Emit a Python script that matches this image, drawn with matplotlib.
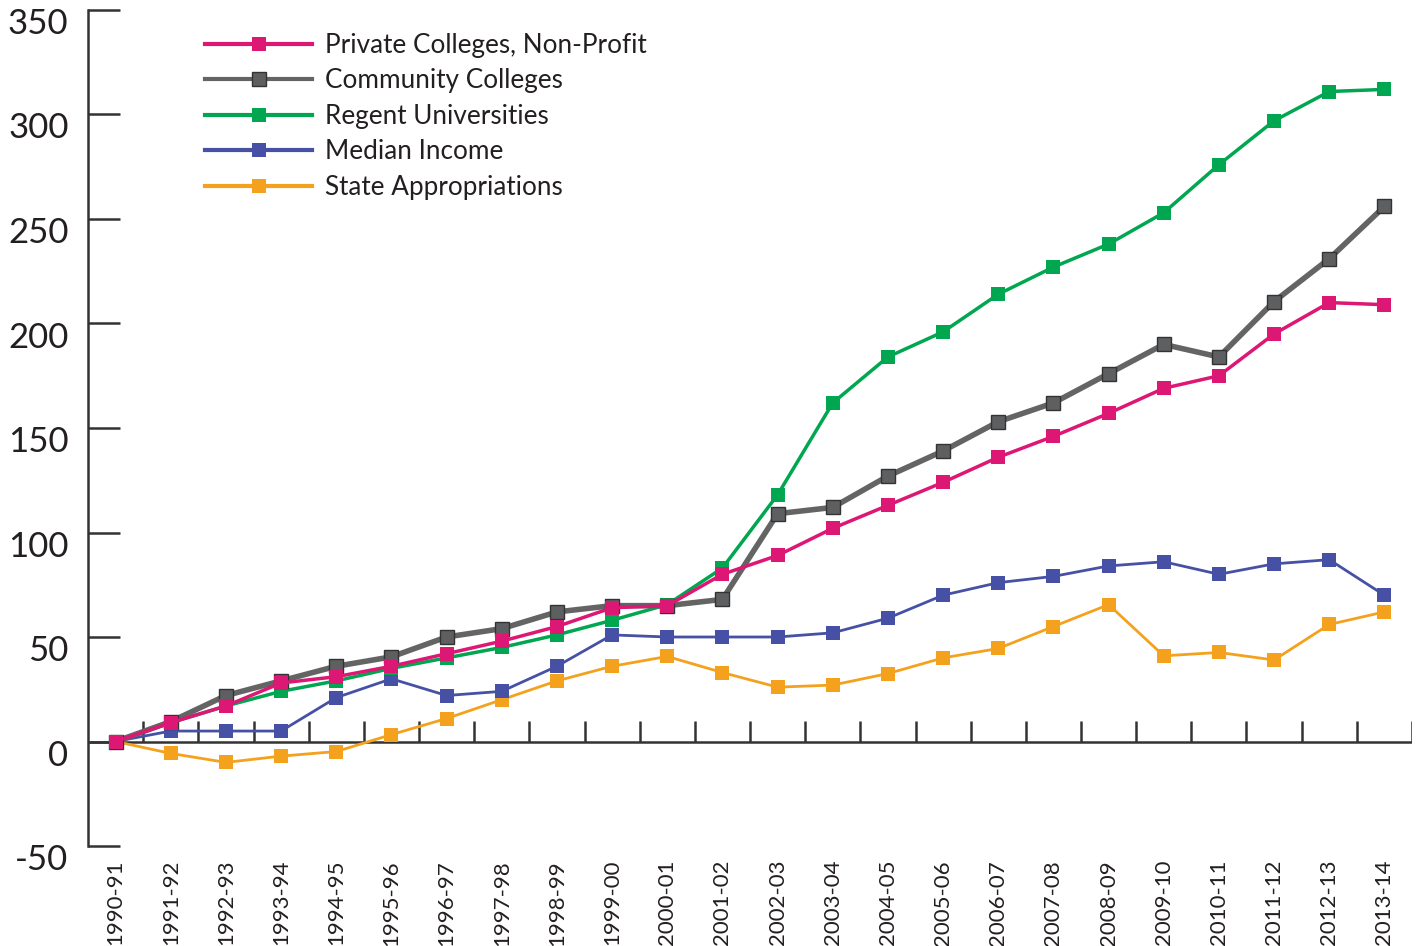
import matplotlib
matplotlib.use('Agg')
import matplotlib.pyplot as plt
import matplotlib.transforms as mtransforms
import numpy as np

# data
years = ['1990-91', '1991-92', '1992-93', '1993-94', '1994-95', '1995-96',
         '1996-97', '1997-98', '1998-99', '1999-00', '2000-01', '2001-02',
         '2002-03', '2003-04', '2004-05', '2005-06', '2006-07', '2007-08',
         '2008-09', '2009-10', '2010-11', '2011-12', '2012-13', '2013-14']

private_np = [0, 9, 17, 28, 31, 36, 42, 48, 55, 64, 65, 80,
              89, 102, 113, 124, 136, 146, 157, 169, 175, 195, 210, 209]
community = [0, 9.5, 22, 29, 36, 40.5, 50, 54, 62, 65, 65, 68,
             109, 112, 127, 139, 153, 162, 176, 190, 184, 210.5, 231, 256]
regent = [0, 9, 17, 24, 29, 35, 40, 45, 51, 58, 65.5, 83,
          118, 162, 184, 196, 214, 227, 238, 253, 276, 297, 311, 312]
median_income = [0, 5, 5, 5, 21, 30, 22, 24, 36, 51, 50, 50,
                 50, 52, 59, 70, 76, 79, 84, 86, 80, 85, 87, 70]
state_approp = [0, -5.7, -10, -7, -4.8, 3.3, 11, 20, 29, 36, 40.7, 33,
                26, 27, 32.5, 40, 44.5, 55, 65.5, 41, 42.6, 39, 56, 62]

ytick_vals = [-50, 0, 50, 100, 150, 200, 250, 300, 350]

plt.rcParams['font.family'] = ['Lato', 'DejaVu Sans']

fig = plt.figure(figsize=(14.24, 9.46), dpi=100)
ax = fig.add_axes([88 / 1424, 1 - 846 / 946, (1412 - 88) / 1424, (846 - 10) / 946])

x = np.arange(len(years))
series = [
    ('Private Colleges, Non-Profit', private_np, '#DC1774', '#DC1774', 2.5),
    ('Community Colleges', community, '#646464', '#333333', 4),
    ('Regent Universities', regent, '#00A650', '#00A650', 2.5),
    ('Median Income', median_income, '#4650A5', '#4650A5', 2),
    ('State Appropriations', state_approp, '#F4A11E', '#F4A11E', 2),
]

# нулевая линия и засечки между годами
ax.axhline(0, color='#333333', lw=1.8, zorder=1)
bounds = np.arange(len(years)) + 0.5
ax.vlines(bounds, 0, 9.6, color='#333333', lw=1.8, zorder=1)

handles = []
for z, (name, vals, col, edge, lw) in enumerate(series[::-1]):
    is_cc = name == 'Community Colleges'
    h, = ax.plot(x, vals, color=col, lw=lw, marker='s', markersize=9.5,
                 markerfacecolor='#5E5F61' if is_cc else col,
                 markeredgecolor=edge, markeredgewidth=1.0 if is_cc else 0,
                 label=name, zorder=3 + z, clip_on=False)
    handles.append(h)
handles = handles[::-1]

ax.set_xlim(-0.5, 23.5)
ax.set_ylim(-50, 350)
ax.set_yticks(ytick_vals)
ax.set_yticklabels([str(v) for v in ytick_vals])
ax.set_xticks(x)
ax.set_xticklabels(years, rotation=90, va='top', ha='center')

for s in ['top', 'right', 'bottom']:
    ax.spines[s].set_visible(False)
ax.spines['left'].set_linewidth(1.8)
ax.spines['left'].set_color('#333333')

ax.tick_params(axis='y', direction='in', length=23, width=1.8, color='#333333',
               labelsize=25, pad=14, labelcolor='#231F20')
ax.tick_params(axis='x', length=0, labelsize=16, pad=10, labelcolor='#231F20')

# подписи оси Y чуть ниже засечек, как в оригинале
offset = mtransforms.ScaledTranslation(0, -0.11, fig.dpi_scale_trans)
for lab in ax.get_yticklabels():
    lab.set_transform(lab.get_transform() + offset)

leg = fig.legend(handles=handles, loc='upper left',
                 bbox_to_anchor=(205 / 1424, 1 - 33 / 946),
                 frameon=False, fontsize=18.8, handlelength=4.1, handletextpad=0.5,
                 labelspacing=0.4, borderaxespad=0, borderpad=0)
for t in leg.get_texts():
    t.set_color('#231F20')
for lh in leg.legend_handles:
    lh.set_linewidth(3)

fig.savefig('out.png', dpi=100)
